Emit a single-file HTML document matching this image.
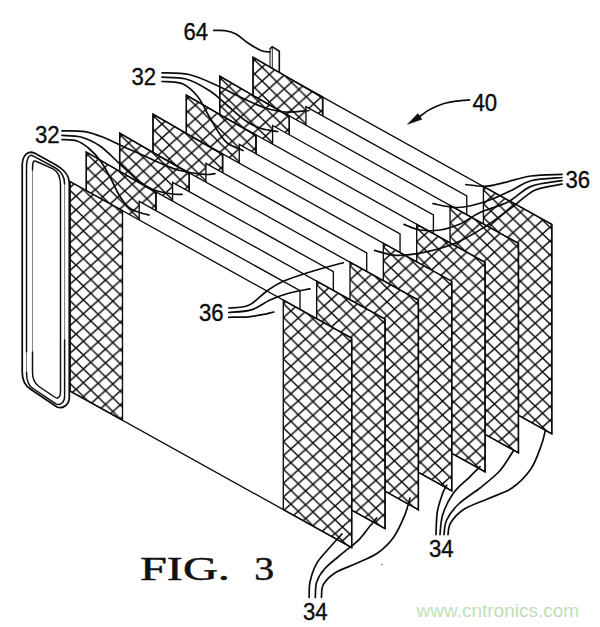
<!DOCTYPE html>
<html><head><meta charset="utf-8"><title>FIG. 3</title>
<style>
html,body{margin:0;padding:0;background:#fff;}
body{width:600px;height:627px;overflow:hidden;font-family:"Liberation Sans",sans-serif;}
svg{display:block;}
</style></head><body>
<svg width="600" height="627" viewBox="0 0 600 627">
<defs>
<pattern id="hl6" width="14.75" height="13.8" patternUnits="userSpaceOnUse" patternTransform="translate(276.10 137.60) skewY(2.4)"><path d="M0 0L14.75 13.8M0 13.8L14.75 0" stroke="#0c0c0c" stroke-width="1.5" fill="none" stroke-linecap="square"/></pattern>
<pattern id="hr6" width="14.75" height="13.8" patternUnits="userSpaceOnUse" patternTransform="translate(490.93 293.80) skewY(2.4)"><path d="M0 0L14.75 13.8M0 13.8L14.75 0" stroke="#0c0c0c" stroke-width="1.5" fill="none" stroke-linecap="square"/></pattern>
<pattern id="ht5" width="14.75" height="13.8" patternUnits="userSpaceOnUse" patternTransform="translate(262.05 67.25) skewY(2.4)"><path d="M0 0L14.75 13.8M0 13.8L14.75 0" stroke="#0c0c0c" stroke-width="1.5" fill="none" stroke-linecap="square"/></pattern>
<pattern id="hl5" width="14.75" height="13.8" patternUnits="userSpaceOnUse" patternTransform="translate(242.75 156.55) skewY(2.4)"><path d="M0 0L14.75 13.8M0 13.8L14.75 0" stroke="#0c0c0c" stroke-width="1.5" fill="none" stroke-linecap="square"/></pattern>
<pattern id="hr5" width="14.75" height="13.8" patternUnits="userSpaceOnUse" patternTransform="translate(457.58 312.75) skewY(2.4)"><path d="M0 0L14.75 13.8M0 13.8L14.75 0" stroke="#0c0c0c" stroke-width="1.5" fill="none" stroke-linecap="square"/></pattern>
<pattern id="ht4" width="14.75" height="13.8" patternUnits="userSpaceOnUse" patternTransform="translate(228.70 86.20) skewY(2.4)"><path d="M0 0L14.75 13.8M0 13.8L14.75 0" stroke="#0c0c0c" stroke-width="1.5" fill="none" stroke-linecap="square"/></pattern>
<pattern id="hl4" width="14.75" height="13.8" patternUnits="userSpaceOnUse" patternTransform="translate(209.40 175.50) skewY(2.4)"><path d="M0 0L14.75 13.8M0 13.8L14.75 0" stroke="#0c0c0c" stroke-width="1.5" fill="none" stroke-linecap="square"/></pattern>
<pattern id="hr4" width="14.75" height="13.8" patternUnits="userSpaceOnUse" patternTransform="translate(424.23 331.70) skewY(2.4)"><path d="M0 0L14.75 13.8M0 13.8L14.75 0" stroke="#0c0c0c" stroke-width="1.5" fill="none" stroke-linecap="square"/></pattern>
<pattern id="ht3" width="14.75" height="13.8" patternUnits="userSpaceOnUse" patternTransform="translate(195.35 105.15) skewY(2.4)"><path d="M0 0L14.75 13.8M0 13.8L14.75 0" stroke="#0c0c0c" stroke-width="1.5" fill="none" stroke-linecap="square"/></pattern>
<pattern id="hl3" width="14.75" height="13.8" patternUnits="userSpaceOnUse" patternTransform="translate(176.05 194.45) skewY(2.4)"><path d="M0 0L14.75 13.8M0 13.8L14.75 0" stroke="#0c0c0c" stroke-width="1.5" fill="none" stroke-linecap="square"/></pattern>
<pattern id="hr3" width="14.75" height="13.8" patternUnits="userSpaceOnUse" patternTransform="translate(390.88 350.65) skewY(2.4)"><path d="M0 0L14.75 13.8M0 13.8L14.75 0" stroke="#0c0c0c" stroke-width="1.5" fill="none" stroke-linecap="square"/></pattern>
<pattern id="ht2" width="14.75" height="13.8" patternUnits="userSpaceOnUse" patternTransform="translate(162.00 124.10) skewY(2.4)"><path d="M0 0L14.75 13.8M0 13.8L14.75 0" stroke="#0c0c0c" stroke-width="1.5" fill="none" stroke-linecap="square"/></pattern>
<pattern id="hl2" width="14.75" height="13.8" patternUnits="userSpaceOnUse" patternTransform="translate(142.70 213.40) skewY(2.4)"><path d="M0 0L14.75 13.8M0 13.8L14.75 0" stroke="#0c0c0c" stroke-width="1.5" fill="none" stroke-linecap="square"/></pattern>
<pattern id="hr2" width="14.75" height="13.8" patternUnits="userSpaceOnUse" patternTransform="translate(357.53 369.60) skewY(2.4)"><path d="M0 0L14.75 13.8M0 13.8L14.75 0" stroke="#0c0c0c" stroke-width="1.5" fill="none" stroke-linecap="square"/></pattern>
<pattern id="ht1" width="14.75" height="13.8" patternUnits="userSpaceOnUse" patternTransform="translate(128.65 143.05) skewY(2.4)"><path d="M0 0L14.75 13.8M0 13.8L14.75 0" stroke="#0c0c0c" stroke-width="1.5" fill="none" stroke-linecap="square"/></pattern>
<pattern id="hl1" width="14.75" height="13.8" patternUnits="userSpaceOnUse" patternTransform="translate(109.35 232.35) skewY(2.4)"><path d="M0 0L14.75 13.8M0 13.8L14.75 0" stroke="#0c0c0c" stroke-width="1.5" fill="none" stroke-linecap="square"/></pattern>
<pattern id="hr1" width="14.75" height="13.8" patternUnits="userSpaceOnUse" patternTransform="translate(324.18 388.55) skewY(2.4)"><path d="M0 0L14.75 13.8M0 13.8L14.75 0" stroke="#0c0c0c" stroke-width="1.5" fill="none" stroke-linecap="square"/></pattern>
<pattern id="ht0" width="14.75" height="13.8" patternUnits="userSpaceOnUse" patternTransform="translate(95.30 162.00) skewY(2.4)"><path d="M0 0L14.75 13.8M0 13.8L14.75 0" stroke="#0c0c0c" stroke-width="1.5" fill="none" stroke-linecap="square"/></pattern>
<pattern id="hl0" width="14.75" height="13.8" patternUnits="userSpaceOnUse" patternTransform="translate(76.00 251.30) skewY(2.4)"><path d="M0 0L14.75 13.8M0 13.8L14.75 0" stroke="#0c0c0c" stroke-width="1.5" fill="none" stroke-linecap="square"/></pattern>
<pattern id="hr0" width="14.75" height="13.8" patternUnits="userSpaceOnUse" patternTransform="translate(290.83 407.50) skewY(2.4)"><path d="M0 0L14.75 13.8M0 13.8L14.75 0" stroke="#0c0c0c" stroke-width="1.5" fill="none" stroke-linecap="square"/></pattern>
</defs>
<rect width="600" height="627" fill="#fff"/>
<g id="plates">
<polygon points="270.00,72.00 270.00,48.60 272.20,46.70 279.30,51.30 279.30,76.00 272.00,74.00" fill="#fff" stroke="#fff" stroke-width="0.1" stroke-linejoin="miter" />
<line x1="270.00" y1="48.80" x2="270.00" y2="68.00" stroke="#0c0c0c" stroke-width="1.0" stroke-linecap="round"/>
<line x1="272.30" y1="47.00" x2="272.30" y2="70.00" stroke="#0c0c0c" stroke-width="0.9" stroke-linecap="round"/>
<path d="M270 48.8L272.2 46.7L279.3 51.3L279.3 74" fill="none" stroke="#0c0c0c" stroke-width="1.6" stroke-linejoin="miter"/>
<polygon points="270.10,67.80 551.80,224.43 551.80,433.93 270.10,277.30" fill="#fff" stroke="#0c0c0c" stroke-width="1.35" stroke-linejoin="miter" />
<polygon points="270.10,67.80 322.60,96.99 322.60,306.49 270.10,277.30" fill="url(#hl6)" stroke="#0c0c0c" stroke-width="1.35" stroke-linejoin="miter" />
<polygon points="483.40,186.39 551.80,224.43 551.80,433.93 483.40,395.89" fill="url(#hr6)" stroke="#0c0c0c" stroke-width="1.35" stroke-linejoin="miter" />
<polygon points="253.05,57.25 322.60,97.59 322.60,307.09 253.05,266.75" fill="#fff" stroke="#0c0c0c" stroke-width="1.35" stroke-linejoin="miter" />
<polygon points="253.05,57.25 322.60,97.59 322.60,307.09 253.05,266.75" fill="url(#ht5)" stroke="#0c0c0c" stroke-width="1.35" stroke-linejoin="miter" />
<polygon points="305.95,106.55 466.75,195.95 466.75,405.45 305.95,316.05" fill="#fff" stroke="#0c0c0c" stroke-width="1.35" stroke-linejoin="miter" />
<polygon points="236.75,86.75 518.45,243.38 518.45,452.88 236.75,296.25" fill="#fff" stroke="#0c0c0c" stroke-width="1.35" stroke-linejoin="miter" />
<polygon points="236.75,86.75 289.25,115.94 289.25,325.44 236.75,296.25" fill="url(#hl5)" stroke="#0c0c0c" stroke-width="1.35" stroke-linejoin="miter" />
<polygon points="450.05,205.34 518.45,243.38 518.45,452.88 450.05,414.84" fill="url(#hr5)" stroke="#0c0c0c" stroke-width="1.35" stroke-linejoin="miter" />
<polygon points="219.70,76.20 289.25,116.54 289.25,326.04 219.70,285.70" fill="#fff" stroke="#0c0c0c" stroke-width="1.35" stroke-linejoin="miter" />
<polygon points="219.70,76.20 289.25,116.54 289.25,326.04 219.70,285.70" fill="url(#ht4)" stroke="#0c0c0c" stroke-width="1.35" stroke-linejoin="miter" />
<polygon points="272.60,125.50 433.40,214.90 433.40,424.40 272.60,335.00" fill="#fff" stroke="#0c0c0c" stroke-width="1.35" stroke-linejoin="miter" />
<polygon points="203.40,105.70 485.10,262.33 485.10,471.83 203.40,315.20" fill="#fff" stroke="#0c0c0c" stroke-width="1.35" stroke-linejoin="miter" />
<polygon points="203.40,105.70 255.90,134.89 255.90,344.39 203.40,315.20" fill="url(#hl4)" stroke="#0c0c0c" stroke-width="1.35" stroke-linejoin="miter" />
<polygon points="416.70,224.29 485.10,262.33 485.10,471.83 416.70,433.79" fill="url(#hr4)" stroke="#0c0c0c" stroke-width="1.35" stroke-linejoin="miter" />
<polygon points="186.35,95.15 255.90,135.49 255.90,344.99 186.35,304.65" fill="#fff" stroke="#0c0c0c" stroke-width="1.35" stroke-linejoin="miter" />
<polygon points="186.35,95.15 255.90,135.49 255.90,344.99 186.35,304.65" fill="url(#ht3)" stroke="#0c0c0c" stroke-width="1.35" stroke-linejoin="miter" />
<polygon points="239.25,144.45 400.05,233.85 400.05,443.35 239.25,353.95" fill="#fff" stroke="#0c0c0c" stroke-width="1.35" stroke-linejoin="miter" />
<polygon points="170.05,124.65 451.75,281.28 451.75,490.78 170.05,334.15" fill="#fff" stroke="#0c0c0c" stroke-width="1.35" stroke-linejoin="miter" />
<polygon points="170.05,124.65 222.55,153.84 222.55,363.34 170.05,334.15" fill="url(#hl3)" stroke="#0c0c0c" stroke-width="1.35" stroke-linejoin="miter" />
<polygon points="383.35,243.24 451.75,281.28 451.75,490.78 383.35,452.74" fill="url(#hr3)" stroke="#0c0c0c" stroke-width="1.35" stroke-linejoin="miter" />
<polygon points="153.00,114.10 222.55,154.44 222.55,363.94 153.00,323.60" fill="#fff" stroke="#0c0c0c" stroke-width="1.35" stroke-linejoin="miter" />
<polygon points="153.00,114.10 222.55,154.44 222.55,363.94 153.00,323.60" fill="url(#ht2)" stroke="#0c0c0c" stroke-width="1.35" stroke-linejoin="miter" />
<polygon points="205.90,163.40 366.70,252.80 366.70,462.30 205.90,372.90" fill="#fff" stroke="#0c0c0c" stroke-width="1.35" stroke-linejoin="miter" />
<polygon points="136.70,143.60 418.40,300.23 418.40,509.73 136.70,353.10" fill="#fff" stroke="#0c0c0c" stroke-width="1.35" stroke-linejoin="miter" />
<polygon points="136.70,143.60 189.20,172.79 189.20,382.29 136.70,353.10" fill="url(#hl2)" stroke="#0c0c0c" stroke-width="1.35" stroke-linejoin="miter" />
<polygon points="350.00,262.19 418.40,300.23 418.40,509.73 350.00,471.69" fill="url(#hr2)" stroke="#0c0c0c" stroke-width="1.35" stroke-linejoin="miter" />
<polygon points="119.65,133.05 189.20,173.39 189.20,382.89 119.65,342.55" fill="#fff" stroke="#0c0c0c" stroke-width="1.35" stroke-linejoin="miter" />
<polygon points="119.65,133.05 189.20,173.39 189.20,382.89 119.65,342.55" fill="url(#ht1)" stroke="#0c0c0c" stroke-width="1.35" stroke-linejoin="miter" />
<polygon points="172.55,182.35 333.35,271.75 333.35,481.25 172.55,391.85" fill="#fff" stroke="#0c0c0c" stroke-width="1.35" stroke-linejoin="miter" />
<polygon points="103.35,162.55 385.05,319.18 385.05,528.68 103.35,372.05" fill="#fff" stroke="#0c0c0c" stroke-width="1.35" stroke-linejoin="miter" />
<polygon points="103.35,162.55 155.85,191.74 155.85,401.24 103.35,372.05" fill="url(#hl1)" stroke="#0c0c0c" stroke-width="1.35" stroke-linejoin="miter" />
<polygon points="316.65,281.14 385.05,319.18 385.05,528.68 316.65,490.64" fill="url(#hr1)" stroke="#0c0c0c" stroke-width="1.35" stroke-linejoin="miter" />
<polygon points="86.30,152.00 155.85,192.34 155.85,401.84 86.30,361.50" fill="#fff" stroke="#0c0c0c" stroke-width="1.35" stroke-linejoin="miter" />
<polygon points="86.30,152.00 155.85,192.34 155.85,401.84 86.30,361.50" fill="url(#ht0)" stroke="#0c0c0c" stroke-width="1.35" stroke-linejoin="miter" />
<polygon points="139.20,201.30 300.00,290.70 300.00,500.20 139.20,410.80" fill="#fff" stroke="#0c0c0c" stroke-width="1.35" stroke-linejoin="miter" />
<polygon points="70.00,181.50 351.70,338.13 351.70,547.63 70.00,391.00" fill="#fff" stroke="#0c0c0c" stroke-width="1.35" stroke-linejoin="miter" />
<polygon points="70.00,181.50 122.50,210.69 122.50,420.19 70.00,391.00" fill="url(#hl0)" stroke="#0c0c0c" stroke-width="1.35" stroke-linejoin="miter" />
<polygon points="283.30,300.09 351.70,338.13 351.70,547.63 283.30,509.59" fill="url(#hr0)" stroke="#0c0c0c" stroke-width="1.35" stroke-linejoin="miter" />
</g>
<g id="ring">
<g fill="#fff" stroke="#0c0c0c" stroke-linejoin="round" stroke-linecap="round">
<path stroke-width="1.75" d="M22.2 372L22.2 166C22.2 156 27 150.5 34 152.8L56 165C63 169 69.3 174 69.3 184L69.3 398C69.3 404 63 409.5 57 407L31 389.5C25 386 22.2 380 22.2 372Z"/>
<path stroke="none" d="M26.5 372L26.5 167C26.5 160 28.5 153.5 33 155.8L55.5 168C61.5 171.5 64.6 176.5 64.6 184L64.6 396.5C64.6 402 60.5 406 56 403.8L33 388.5C28.5 386 26.5 379 26.5 372Z"/>
<g fill="none">
<path stroke-width="1.45" d="M26.5 352L26.5 167C26.5 160 28.5 153.5 33 155.8L55.5 168C61.5 171.5 64.6 176.5 64.6 184"/>
<path stroke-width="0.8" stroke="#555" d="M64.6 184L64.6 340"/>
<path stroke-width="1.45" d="M64.6 340L64.6 396.5C64.6 402 60.5 406 56 403.8L33 388.5C28.5 386 26.5 379 26.5 372"/>
<path stroke-width="0.8" stroke="#555" d="M26.5 372L26.5 352"/>
<path stroke-width="0.8" stroke="#666" d="M32.5 352L32.5 170"/>
<path stroke-width="1.45" d="M32.5 170C32.5 163 33 159.5 36.5 161.5L53 168.8C58 171.5 60.5 177 60.5 185L60.5 392C60.5 397 58 399.5 54.5 397L39 386.5C34.5 383.5 32.5 378 32.5 372L32.5 352"/>
</g>
</g></g>
<g id="leaders">
<path d="M62.0 130.8C65.8 130.9 77.8 130.4 85.0 131.6C92.2 132.8 99.0 135.7 105.0 138.0C111.0 140.3 115.2 142.8 121.0 145.5C126.8 148.2 133.5 151.1 140.0 154.0C146.5 156.9 153.3 160.2 160.0 163.0C166.7 165.8 172.5 168.6 180.0 170.5C187.5 172.4 199.2 173.9 205.0 174.4C210.8 174.9 213.3 173.7 215.0 173.6" fill="none" stroke="#0c0c0c" stroke-width="1.7" stroke-linecap="round"/>
<path d="M62.0 135.4C65.2 135.7 74.7 135.2 81.0 137.0C87.3 138.8 93.5 141.5 100.0 146.0C106.5 150.5 113.3 158.0 120.0 164.0C126.7 170.0 134.3 177.7 140.0 182.0C145.7 186.3 148.7 188.0 154.0 190.0C159.3 192.0 167.3 193.3 172.0 194.0C176.7 194.7 180.3 194.3 182.0 194.4" fill="none" stroke="#0c0c0c" stroke-width="1.7" stroke-linecap="round"/>
<path d="M62.0 139.6C64.5 139.8 72.5 139.5 77.0 141.0C81.5 142.5 85.1 145.2 89.0 148.5C92.9 151.8 97.0 156.2 100.5 161.0C104.0 165.8 107.0 171.6 110.3 177.5C113.5 183.4 116.8 191.4 120.0 196.5C123.2 201.6 126.3 205.4 129.5 208.0C132.7 210.6 135.8 211.1 139.0 212.3C142.2 213.5 147.3 214.6 149.0 215.0" fill="none" stroke="#0c0c0c" stroke-width="1.7" stroke-linecap="round"/>
<path d="M162.0 72.8C166.5 73.1 180.0 72.5 189.0 74.5C198.0 76.5 207.5 81.2 216.0 85.0C224.5 88.8 232.0 93.2 240.0 97.0C248.0 100.8 256.5 105.0 264.0 107.5C271.5 110.0 277.5 111.5 285.0 112.0C292.5 112.5 305.0 110.8 309.0 110.5" fill="none" stroke="#0c0c0c" stroke-width="1.7" stroke-linecap="round"/>
<path d="M162.0 77.2C166.0 77.5 178.0 76.7 186.0 79.0C194.0 81.3 203.0 86.5 210.0 91.0C217.0 95.5 222.0 101.0 228.0 106.0C234.0 111.0 240.5 117.2 246.0 121.0C251.5 124.8 255.7 126.8 261.0 128.5C266.3 130.2 274.8 131.0 277.6 131.5" fill="none" stroke="#0c0c0c" stroke-width="1.7" stroke-linecap="round"/>
<path d="M162.0 81.5C165.5 81.9 177.0 81.4 183.0 84.0C189.0 86.6 193.5 91.3 198.0 97.0C202.5 102.7 206.5 112.0 210.0 118.0C213.5 124.0 216.0 128.8 219.0 133.0C222.0 137.2 224.0 140.6 228.0 143.5C232.0 146.4 240.5 149.3 243.0 150.5" fill="none" stroke="#0c0c0c" stroke-width="1.7" stroke-linecap="round"/>
<path d="M228.7 308.0C232.0 307.6 242.3 308.2 248.7 305.3C255.1 302.4 261.5 294.7 267.3 290.7C273.1 286.7 276.2 284.4 283.3 281.3C290.4 278.2 300.0 275.1 310.0 272.0C320.0 268.9 337.8 264.2 343.3 262.7" fill="none" stroke="#0c0c0c" stroke-width="1.7" stroke-linecap="round"/>
<path d="M228.7 312.5C232.5 312.1 244.4 312.0 251.3 309.9C258.2 307.8 263.8 302.8 270.0 300.0C276.2 297.2 282.0 295.2 288.7 293.3C295.4 291.4 306.4 289.6 310.0 288.8" fill="none" stroke="#0c0c0c" stroke-width="1.7" stroke-linecap="round"/>
<path d="M228.7 317.3C232.0 317.2 243.1 317.2 248.7 316.8C254.2 316.4 257.8 315.5 262.0 314.7C266.2 313.9 272.0 312.4 274.0 312.0" fill="none" stroke="#0c0c0c" stroke-width="1.7" stroke-linecap="round"/>
<path d="M562.0 174.4C556.8 174.7 540.7 174.6 531.0 176.0C521.3 177.4 511.7 180.9 504.0 182.6C496.3 184.3 491.4 186.1 485.0 186.4C478.6 186.7 469.0 184.8 465.8 184.5" fill="none" stroke="#0c0c0c" stroke-width="1.7" stroke-linecap="round"/>
<path d="M562.0 177.5C556.8 178.0 539.4 178.6 531.0 180.7C522.6 182.8 519.5 186.7 511.8 190.2C504.1 193.7 494.0 198.8 485.0 201.7C476.0 204.6 466.7 207.2 458.0 207.5C449.3 207.8 437.2 204.3 433.0 203.7" fill="none" stroke="#0c0c0c" stroke-width="1.7" stroke-linecap="round"/>
<path d="M562.0 180.7C556.8 181.6 540.0 182.8 531.0 186.4C522.0 190.0 516.5 197.7 508.0 202.0C499.5 206.3 488.0 208.8 480.0 212.5C472.0 216.2 466.7 221.1 460.0 224.0C453.3 226.9 446.7 229.0 440.0 230.0C433.3 231.0 426.0 230.9 420.0 230.0C414.0 229.1 406.7 225.3 404.0 224.4" fill="none" stroke="#0c0c0c" stroke-width="1.7" stroke-linecap="round"/>
<path d="M562.0 184.2C557.5 185.2 543.2 186.3 534.8 190.2C526.4 194.1 520.1 201.4 511.8 207.5C503.5 213.6 494.0 220.9 485.0 226.7C476.0 232.4 467.6 237.8 458.0 242.0C448.4 246.2 437.7 249.4 427.5 251.6C417.3 253.8 405.6 255.6 396.8 255.4C388.0 255.2 378.3 251.2 374.6 250.4" fill="none" stroke="#0c0c0c" stroke-width="1.7" stroke-linecap="round"/>
<path d="M309.2 597.5C309.3 594.9 308.8 587.7 310.0 582.0C311.2 576.3 313.4 569.1 316.7 563.3C320.0 557.5 325.8 552.2 330.0 547.3C334.2 542.4 340.0 536.2 342.0 534.0" fill="none" stroke="#0c0c0c" stroke-width="1.7" stroke-linecap="round"/>
<path d="M315.3 597.5C315.5 594.9 315.1 586.8 316.7 582.0C318.3 577.2 320.3 573.6 324.7 568.7C329.1 563.8 337.5 557.6 343.3 552.7C349.1 547.8 354.9 543.8 359.3 539.3C363.8 534.8 367.1 529.5 370.0 526.0C372.9 522.5 375.6 519.3 376.7 518.0" fill="none" stroke="#0c0c0c" stroke-width="1.7" stroke-linecap="round"/>
<path d="M321.5 597.5C321.8 595.4 321.0 588.8 323.3 584.7C325.6 580.6 329.7 576.3 335.3 572.7C340.9 569.1 349.6 566.6 356.7 563.3C363.8 560.0 371.8 557.1 378.0 552.7C384.2 548.3 389.6 542.9 394.0 536.7C398.4 530.5 402.0 521.8 404.7 515.3C407.4 508.8 409.1 500.9 410.0 498.0" fill="none" stroke="#0c0c0c" stroke-width="1.7" stroke-linecap="round"/>
<path d="M436.0 534.7C436.2 530.9 436.2 518.9 437.3 512.0C438.4 505.1 441.1 497.8 442.7 493.3C444.3 488.9 446.0 486.6 446.7 485.3" fill="none" stroke="#0c0c0c" stroke-width="1.7" stroke-linecap="round"/>
<path d="M440.0 534.7C440.4 531.4 440.5 521.6 442.7 514.7C444.9 507.8 448.9 499.5 453.3 493.3C457.7 487.1 464.9 481.7 469.3 477.3C473.8 472.9 478.2 468.5 480.0 466.7" fill="none" stroke="#0c0c0c" stroke-width="1.7" stroke-linecap="round"/>
<path d="M444.0 534.7C444.4 532.2 444.2 525.1 446.7 520.0C449.1 514.9 453.1 509.3 458.7 504.0C464.2 498.7 473.3 493.3 480.0 488.0C486.7 482.7 493.8 477.1 498.7 472.0C503.6 466.9 506.9 460.9 509.3 457.3C511.7 453.8 512.6 451.8 513.3 450.7" fill="none" stroke="#0c0c0c" stroke-width="1.7" stroke-linecap="round"/>
<path d="M448.0 534.7C448.4 532.7 448.0 526.9 450.7 522.7C453.4 518.5 457.8 513.3 464.0 509.3C470.2 505.3 480.0 502.2 488.0 498.7C496.0 495.1 504.9 492.9 512.0 488.0C519.1 483.1 525.8 476.4 530.7 469.3C535.6 462.2 538.9 451.7 541.3 445.3C543.7 438.9 544.6 433.1 545.3 430.7" fill="none" stroke="#0c0c0c" stroke-width="1.7" stroke-linecap="round"/>
<path d="M213.7 30.4C215.6 30.4 221.3 30.0 225.0 30.6C228.7 31.2 232.2 31.9 236.0 34.0C239.8 36.1 243.8 40.2 248.0 43.0C252.2 45.8 257.3 49.0 261.0 50.5C264.7 52.0 268.5 51.8 270.0 52.0" fill="none" stroke="#0c0c0c" stroke-width="1.7" stroke-linecap="round"/>
<path d="M469.5 99.9C467.2 100.1 460.1 100.6 456.0 101.2C451.9 101.8 448.2 102.5 445.0 103.3C441.8 104.1 439.5 105.1 436.7 106.2C433.9 107.4 431.2 108.6 428.3 110.4C425.4 112.2 420.6 115.9 419.0 117.0" fill="none" stroke="#0c0c0c" stroke-width="1.7" stroke-linecap="round"/>
<polygon points="407.5,124.3 417.9,113.6 421.8,119.3" fill="#0c0c0c" stroke="#0c0c0c" stroke-width="0.6" stroke-linejoin="round"/>
</g>
<g id="text">
<g font-family="Liberation Sans, sans-serif" font-size="23.6" fill="#0c0c0c" stroke="#0c0c0c" stroke-width="0.35">
<text transform="translate(183.50 40.00) scale(0.94 1)">64</text><text transform="translate(131.50 84.80) scale(0.94 1)">32</text><text transform="translate(35.00 143.00) scale(0.94 1)">32</text><text transform="translate(472.50 111.20) scale(0.94 1)">40</text><text transform="translate(565.50 187.50) scale(0.94 1)">36</text><text transform="translate(199.00 321.20) scale(0.94 1)">36</text><text transform="translate(429.00 556.50) scale(0.94 1)">34</text><text transform="translate(303.00 620.00) scale(0.94 1)">34</text>
</g>
<g font-family="Liberation Serif, serif" font-size="34" fill="#111" stroke="#111" stroke-width="0.5">
<text transform="translate(140 579.5) scale(1.42 1)">FIG.</text>
<text transform="translate(254.3 579.5) scale(1.17 1)">3</text>
</g>
<text x="416.5" y="616.5" font-family="Liberation Sans, sans-serif" font-size="19" fill="#bde1b6">www.cntronics.com</text>
</g>
<circle cx="382" cy="564.5" r="0.8" fill="#555"/>
</svg>
</body></html>
